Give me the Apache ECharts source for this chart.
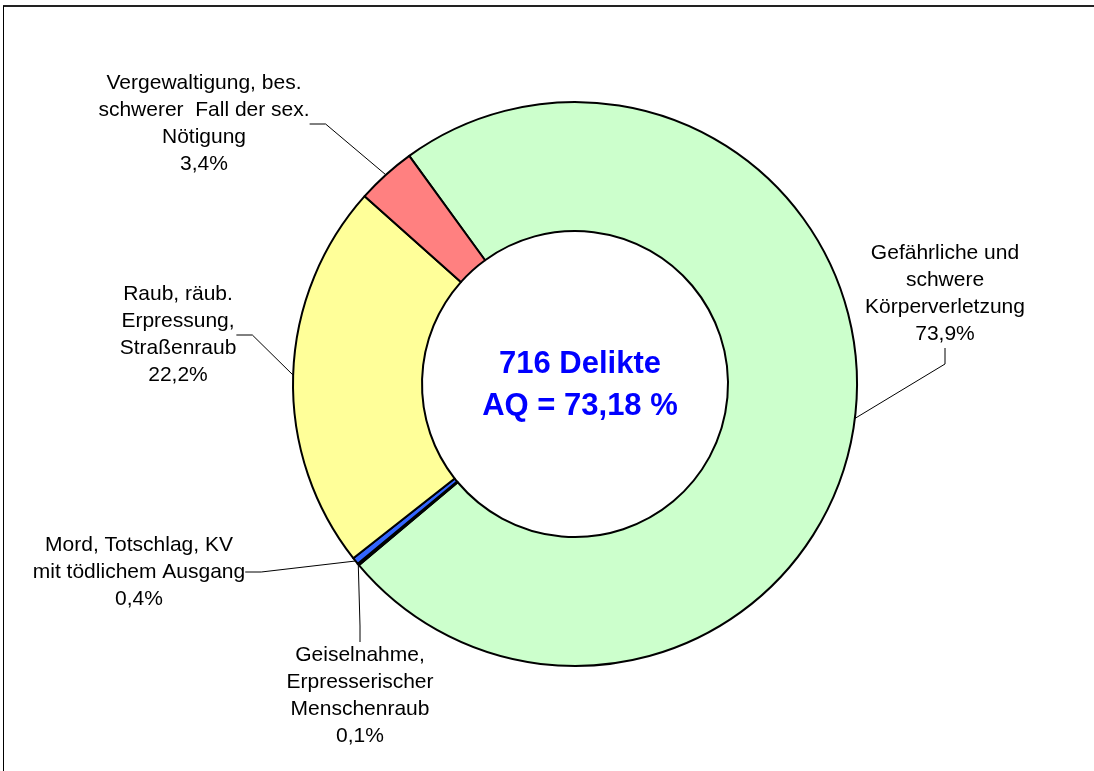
<!doctype html>
<html lang="de">
<head>
    <meta charset="utf-8">
    <title>Delikte</title>
    <script src="https://cdn.jsdelivr.net/npm/echarts@6/dist/echarts.min.js"></script>
</head>
<body style="margin:0;background:#fff;overflow:hidden;">
<div id="pie" style="width: 1094px;height:771px;"></div>

<script>

// Reihenfolge im Uhrzeigersinn, beginnend bei Körperverletzung
var names = [
    'Gefährliche und\nschwere\nKörperverletzung',
    'Geiselnahme,\nErpresserischer\nMenschenraub',
    'Mord, Totschlag, KV\nmit tödlichem Ausgang',
    'Raub, räub.\nErpressung,\nStraßenraub',
    'Vergewaltigung, bes.\nschwerer  Fall der sex.\nNötigung'
];
var shares = [73.9, 0.1, 0.4, 22.2, 3.4];
var colors = ['#CCFFCC', '#99CCFF', '#3366FF', '#FFFF99', '#FF8080'];
var centerLines = ['716 Delikte', 'AQ = 73,18 %'];

// Label-Positionen (Mitte des Textblocks)
var labelPos = [
    [945, 294],
    [360, 696],
    [139, 572],
    [178, 335],
    [204, 124]
];

var myChart = echarts.init(document.getElementById('pie'));

var pieData = names.map(function (n, i) {
    return { name: n, value: shares[i], itemStyle: { color: colors[i] } };
});

myChart.setOption({
    animation: false,
    backgroundColor: '#fff',
    graphic: [
        {
            type: 'line',
            shape: { x1: 3, y1: 6, x2: 1200, y2: 6 },
            style: { stroke: '#222', lineWidth: 2 }
        },
        {
            type: 'line',
            shape: { x1: 3.5, y1: 6, x2: 3.5, y2: 800 },
            style: { stroke: '#000', lineWidth: 1 }
        },
        {
            type: 'text',
            style: {
                text: centerLines.join('\n'),
                x: 580, y: 385,
                align: 'center', verticalAlign: 'middle',
                fill: '#0000FF',
                font: 'bold 31px "Liberation Sans", Arial, sans-serif',
                lineHeight: 42
            }
        }
    ],
    series: [
        {
            type: 'pie',
            center: [575, 384],
            radius: [153, 282],
            startAngle: 126,
            clockwise: true,
            avoidLabelOverlap: false,
            data: pieData,
            itemStyle: { borderColor: '#000', borderWidth: 2 },
            emphasis: { disabled: true },
            label: {
                show: true,
                position: 'outside',
                color: '#000',
                fontFamily: '"Liberation Sans", Arial, sans-serif',
                fontSize: 21,
                lineHeight: 27,
                align: 'center',
                formatter: function (p) {
                    return p.name + '\n' + p.value.toFixed(1).replace('.', ',') + '%';
                }
            },
            labelLine: {
                show: true,
                length: 10,
                length2: 16,
                smooth: false,
                lineStyle: { color: '#000', width: 1 }
            },
            labelLayout: function (params) {
                var p = labelPos[params.dataIndex];
                return { x: p[0], y: p[1], align: 'center', verticalAlign: 'middle' };
            }
        }
    ]
});

</script>

</body>
</html>
